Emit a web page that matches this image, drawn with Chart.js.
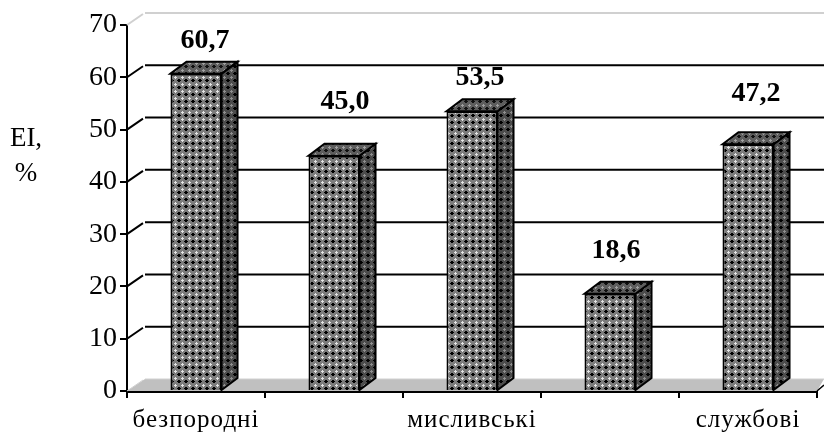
<!DOCTYPE html>
<html>
<head>
<meta charset="utf-8">
<title>EI, %</title>
<style>
  html, body { margin: 0; padding: 0; background: #fff; }
  canvas { display: block; }
</style>
<script src="https://cdn.jsdelivr.net/npm/chart.js@4/dist/chart.umd.min.js"></script>
</head>
<body>
<canvas id="eiChart" width="824" height="432"></canvas>
<script>
const categories = ['безпородні', '', 'мисливські', '', 'службові'];
const eiValues = [60.7, 45.0, 53.5, 18.6, 47.2];
const yTicks = [0, 10, 20, 30, 40, 50, 60, 70];

const serif = '"Liberation Serif", "Times New Roman", serif';

// oblique depth of the back wall and of the bars
const wallDx = 18, wallDy = -12;
const barDx = 16, barDy = -12;

// label nudges away from the bar centre / bar top
const labelShiftX = [9, 11, 8, 6, 8];
const labelShiftY = [-33, -54, -34, -43, -50];

// woven fill: black crosses on a grey ground with light specks at the cell corners
function weave(ground, light, dark) {
    const c = document.createElement('canvas');
    c.width = 7;
    c.height = 7;
    const g = c.getContext('2d');
    g.fillStyle = ground;
    g.fillRect(0, 0, 7, 7);
    g.fillStyle = dark;
    g.fillRect(3, 2, 2, 3);
    g.fillRect(2, 3, 4, 1);
    g.fillStyle = light;
    g.fillRect(0, 0, 2, 1);
    g.fillRect(0, 0, 1, 2);
    g.fillRect(6, 0, 1, 1);
    g.fillRect(0, 6, 1, 1);
    return g.createPattern(c, 'repeat');
}

const ctx = document.getElementById('eiChart').getContext('2d');
const frontFill = weave('#7c7c7c', '#e4e4e4', '#000000');
const sideFill = weave('#4c4c4c', '#8e8e8e', '#000000');
const topFill = weave('#5e5e5e', '#a0a0a0', '#111111');

const wallPlugin = {
    id: 'wall',
    afterLayout(chart) {
        // category labels are set with a little tracking
        const x = chart.scales.x;
        const drawLabels = x.drawLabels;
        x.drawLabels = function (area) {
            chart.ctx.letterSpacing = '1px';
            drawLabels.call(x, area);
            chart.ctx.letterSpacing = '0px';
        };
    },
    beforeDatasetsDraw(chart) {
        const { ctx, scales: { x, y } } = chart;
        const base = y.getPixelForValue(0);
        ctx.save();

        // floor
        ctx.fillStyle = '#c0c0c0';
        ctx.beginPath();
        ctx.moveTo(x.left, base);
        ctx.lineTo(x.left + wallDx, base + wallDy);
        ctx.lineTo(824, base + wallDy);
        ctx.lineTo(x.right, base);
        ctx.closePath();
        ctx.fill();

        // grid on the back wall, joined to the axis by short diagonals
        yTicks.forEach(v => {
            const py = y.getPixelForValue(v);
            const top = v === yTicks[yTicks.length - 1];
            ctx.strokeStyle = (v === 0 || top) ? '#d0d0d0' : '#000';
            ctx.lineWidth = top ? 2 : (v === 0 ? 1 : 2);
            ctx.beginPath();
            ctx.moveTo(x.left, py);
            ctx.lineTo(x.left + wallDx - 2, py + wallDy + 1);
            ctx.moveTo(x.left + wallDx, py + wallDy);
            ctx.lineTo(824, py + wallDy);
            ctx.stroke();
        });

        // right end of the floor
        ctx.strokeStyle = '#000';
        ctx.lineWidth = 1.5;
        ctx.beginPath();
        ctx.moveTo(x.right, base);
        ctx.lineTo(824, base - 6);
        ctx.stroke();

        // bar depth: side and top faces
        ctx.lineWidth = 2;
        ctx.strokeStyle = '#000';
        chart.getDatasetMeta(0).data.forEach(bar => {
            const l = bar.x - bar.width / 2;
            const r = bar.x + bar.width / 2;
            ctx.fillStyle = sideFill;
            ctx.beginPath();
            ctx.moveTo(r, bar.y);
            ctx.lineTo(r + barDx, bar.y + barDy);
            ctx.lineTo(r + barDx, bar.base + barDy);
            ctx.lineTo(r, bar.base);
            ctx.closePath();
            ctx.fill();
            ctx.stroke();
            ctx.fillStyle = topFill;
            ctx.beginPath();
            ctx.moveTo(l, bar.y);
            ctx.lineTo(l + barDx, bar.y + barDy);
            ctx.lineTo(r + barDx, bar.y + barDy);
            ctx.lineTo(r, bar.y);
            ctx.closePath();
            ctx.fill();
            ctx.stroke();
        });
        ctx.restore();
    },
    afterDatasetsDraw(chart) {
        const { ctx } = chart;
        ctx.save();
        ctx.fillStyle = '#000';
        ctx.textAlign = 'center';
        ctx.textBaseline = 'middle';

        // value labels
        ctx.font = 'bold 28px ' + serif;
        chart.getDatasetMeta(0).data.forEach((bar, i) => {
            const text = eiValues[i].toFixed(1).replace('.', ',');
            ctx.fillText(text, bar.x + labelShiftX[i], bar.y + labelShiftY[i]);
        });

        // axis name
        ctx.font = '27px ' + serif;
        ctx.fillText('EI,', 26, 139);
        ctx.fillText('%', 26, 174);
        ctx.restore();
    }
};

new Chart(ctx, {
    type: 'bar',
    data: {
        labels: categories,
        datasets: [{
            data: eiValues,
            backgroundColor: frontFill,
            borderColor: '#000',
            borderWidth: 2,
            categoryPercentage: 0.37,
            barPercentage: 1
        }]
    },
    plugins: [wallPlugin],
    options: {
        responsive: false,
        animation: false,
        events: [],
        layout: { padding: { top: 25, right: 7, left: 0, bottom: 0 } },
        plugins: {
            legend: { display: false },
            tooltip: { enabled: false }
        },
        scales: {
            x: {
                afterFit(scale) { scale.height = 41; },
                grid: { drawOnChartArea: false, color: '#000', lineWidth: 2, tickLength: 7, offset: true },
                border: { color: '#000', width: 3 },
                ticks: {
                    color: '#000',
                    font: { family: serif, size: 25 },
                    autoSkip: false,
                    maxRotation: 0,
                    padding: 7
                }
            },
            y: {
                min: 0,
                max: 70,
                afterFit(scale) { scale.width = 127; },
                afterBuildTicks(scale) { scale.ticks = yTicks.map(value => ({ value })); },
                grid: { drawOnChartArea: false, color: '#000', lineWidth: 2, tickLength: 7 },
                border: { color: '#000', width: 2 },
                ticks: {
                    color: '#000',
                    font: { family: serif, size: 28 },
                    padding: 3
                }
            }
        }
    }
});
</script>
</body>
</html>
